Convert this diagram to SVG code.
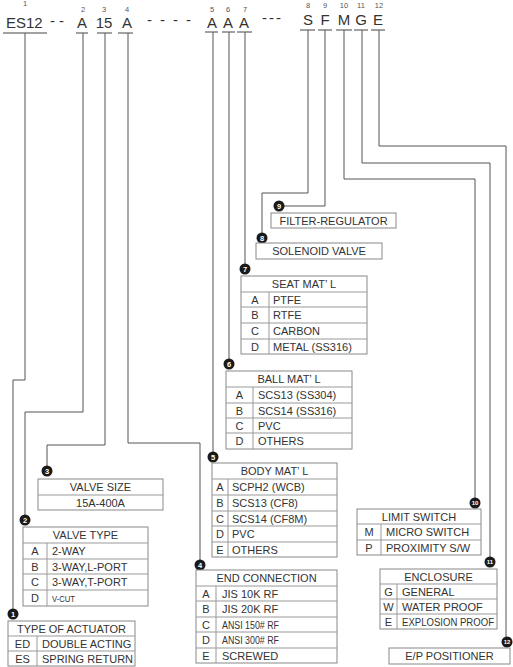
<svg xmlns="http://www.w3.org/2000/svg" width="513" height="667" viewBox="0 0 513 667">
<style>
.t{font-family:"Liberation Sans",Arial,sans-serif;font-size:11px;fill:#333}
.c{text-anchor:middle}
.h{font-family:"Liberation Sans",Arial,sans-serif;font-size:15px;fill:#333;text-anchor:middle}
.n{font-family:"Liberation Sans",Arial,sans-serif;font-size:7.5px;fill:#555;text-anchor:middle}
.ln{fill:none;stroke:#555;stroke-width:1}
.ul{stroke:#444;stroke-width:1}
.bx{fill:#fff;stroke:#888;stroke-width:1}
.gl{stroke:#999;stroke-width:1}
.bd{fill:#1a1a1a}
.bn{font-family:"Liberation Sans",Arial,sans-serif;font-size:7.5px;font-weight:bold;fill:#fff;text-anchor:middle}
.bn2{font-family:"Liberation Sans",Arial,sans-serif;font-size:6px;font-weight:bold;fill:#fff;text-anchor:middle}
</style>
<rect width="513" height="667" fill="#fff"/>

<g id="code">
<text class="n" x="25" y="6">1</text>
<text x="6" y="28" style="font-family:'Liberation Sans',Arial,sans-serif;font-size:15px;fill:#333">ES12</text>
<line class="ul" x1="3" y1="33" x2="47" y2="33"/>
<text x="50" y="26" style="font-family:'Liberation Sans',Arial,sans-serif;font-size:15px;fill:#333;letter-spacing:4px">--</text>
<text class="n" x="83" y="12">2</text><text class="h" x="82" y="28">A</text><line class="ul" x1="76" y1="33" x2="88" y2="33"/>
<text class="n" x="104" y="12">3</text><text class="h" x="104" y="28">15</text><line class="ul" x1="97" y1="33" x2="112" y2="33"/>
<text class="n" x="127" y="12">4</text><text class="h" x="127" y="28">A</text><line class="ul" x1="118" y1="33" x2="133" y2="33"/>
<text x="147" y="25" style="font-family:'Liberation Sans',Arial,sans-serif;font-size:15px;fill:#333;letter-spacing:8px">----</text>
<text class="n" x="212" y="12">5</text><text class="h" x="212" y="28">A</text><line class="ul" x1="205" y1="32" x2="218" y2="32"/>
<text class="n" x="228" y="12">6</text><text class="h" x="228" y="28">A</text><line class="ul" x1="222" y1="32" x2="235" y2="32"/>
<text class="n" x="245" y="12">7</text><text class="h" x="244" y="28">A</text><line class="ul" x1="237" y1="32" x2="252" y2="32"/>
<text x="262" y="23" style="font-family:'Liberation Sans',Arial,sans-serif;font-size:15px;fill:#333;letter-spacing:2px">---</text>
<text class="n" x="308" y="8">8</text><text class="h" x="308" y="25">S</text><line class="ul" x1="300" y1="30" x2="315" y2="30"/>
<text class="n" x="325" y="8">9</text><text class="h" x="325" y="25">F</text><line class="ul" x1="318" y1="30" x2="332" y2="30"/>
<text class="n" x="344" y="8">10</text><text class="h" x="344" y="25">M</text><line class="ul" x1="336" y1="30" x2="352" y2="30"/>
<text class="n" x="361" y="8">11</text><text class="h" x="361" y="25">G</text><line class="ul" x1="354" y1="30" x2="368" y2="30"/>
<text class="n" x="379" y="8">12</text><text class="h" x="378" y="25">E</text><line class="ul" x1="371" y1="30" x2="385" y2="30"/>
</g>

<g id="connectors">
<path class="ln" d="M25 33V380H13V609"/>
<path class="ln" d="M83 33V412H25V515"/>
<path class="ln" d="M105 33V445H47V466"/>
<path class="ln" d="M128 33V443H200V560"/>
<path class="ln" d="M213 32V452"/>
<path class="ln" d="M229 32V359"/>
<path class="ln" d="M245 32V264"/>
<path class="ln" d="M308 30V193H262V233"/>
<path class="ln" d="M325 30V206H284"/>
<path class="ln" d="M344 30V179H475V498"/>
<path class="ln" d="M362 30V163H490V557"/>
<path class="ln" d="M379 30V146H506V637"/>
</g>

<g id="badges">
<circle class="bd" cx="13" cy="614" r="5.5"/><text class="bn" x="13" y="617">1</text>
<circle class="bd" cx="25" cy="520" r="5.5"/><text class="bn" x="25" y="523">2</text>
<circle class="bd" cx="47" cy="471" r="5.5"/><text class="bn" x="47" y="474">3</text>
<circle class="bd" cx="200" cy="565" r="5.5"/><text class="bn" x="200" y="568">4</text>
<circle class="bd" cx="213" cy="457" r="5.5"/><text class="bn" x="213" y="460">5</text>
<circle class="bd" cx="229" cy="364" r="5.5"/><text class="bn" x="229" y="367">6</text>
<circle class="bd" cx="245" cy="269" r="5.5"/><text class="bn" x="245" y="272">7</text>
<circle class="bd" cx="262" cy="238" r="5.5"/><text class="bn" x="262" y="241">8</text>
<circle class="bd" cx="279" cy="206" r="5.5"/><text class="bn" x="279" y="209">9</text>
<circle class="bd" cx="475" cy="503" r="5.5"/><text class="bn2" x="475" y="505">10</text>
<circle class="bd" cx="490" cy="562" r="5.5"/><text class="bn2" x="490" y="564">11</text>
<circle class="bd" cx="507" cy="642" r="5.5"/><text class="bn2" x="507" y="644">12</text>
</g>

<g id="n1-actuator">
<rect class="bx" x="8" y="621" width="127" height="45"/>
<line class="gl" x1="8" y1="636" x2="135" y2="636"/>
<line class="gl" x1="8" y1="651" x2="135" y2="651"/>
<line class="gl" x1="37" y1="636" x2="37" y2="666"/>
<text class="t c" x="71.5" y="632.5">TYPE OF ACTUATOR</text>
<text class="t c" x="22.5" y="647.5">ED</text><text class="t" x="42" y="647.5">DOUBLE ACTING</text>
<text class="t c" x="22.5" y="662.5">ES</text><text class="t" x="42" y="662.5">SPRING RETURN</text>
</g>

<g id="n2-valve-type">
<rect class="bx" x="23" y="527" width="125" height="79"/>
<line class="gl" x1="23" y1="543" x2="148" y2="543"/>
<line class="gl" x1="23" y1="559" x2="148" y2="559"/>
<line class="gl" x1="23" y1="574" x2="148" y2="574"/>
<line class="gl" x1="23" y1="590" x2="148" y2="590"/>
<line class="gl" x1="47" y1="543" x2="47" y2="606"/>
<text class="t c" x="85.5" y="539">VALVE TYPE</text>
<text class="t c" x="35" y="555">A</text><text class="t" x="52" y="555">2-WAY</text>
<text class="t c" x="35" y="570.5">B</text><text class="t" x="52" y="570.5">3-WAY,L-PORT</text>
<text class="t c" x="35" y="586">C</text><text class="t" x="52" y="586">3-WAY,T-PORT</text>
<text class="t c" x="35" y="602">D</text><text class="t" x="52" y="602" style="font-size:9px" textLength="23" lengthAdjust="spacingAndGlyphs">V-CUT</text>
</g>

<g id="n3-valve-size">
<rect class="bx" x="38" y="479" width="125" height="31"/>
<line class="gl" x1="38" y1="495" x2="163" y2="495"/>
<text class="t c" x="100.5" y="491">VALVE SIZE</text>
<text class="t c" x="100.5" y="506.5">15A-400A</text>
</g>

<g id="n4-end-connection">
<rect class="bx" x="196" y="570" width="141" height="93"/>
<line class="gl" x1="196" y1="586" x2="337" y2="586"/>
<line class="gl" x1="196" y1="601" x2="337" y2="601"/>
<line class="gl" x1="196" y1="617" x2="337" y2="617"/>
<line class="gl" x1="196" y1="632" x2="337" y2="632"/>
<line class="gl" x1="196" y1="648" x2="337" y2="648"/>
<line class="gl" x1="216" y1="586" x2="216" y2="663"/>
<text class="t c" x="266.5" y="582">END CONNECTION</text>
<text class="t c" x="206" y="597.5">A</text><text class="t" x="222" y="597.5">JIS 10K RF</text>
<text class="t c" x="206" y="613">B</text><text class="t" x="222" y="613">JIS 20K RF</text>
<text class="t c" x="206" y="628.5">C</text><text class="t" x="222" y="628.5" style="font-size:10px" textLength="57" lengthAdjust="spacingAndGlyphs">ANSI 150# RF</text>
<text class="t c" x="206" y="644">D</text><text class="t" x="222" y="644" style="font-size:10px" textLength="57" lengthAdjust="spacingAndGlyphs">ANSI 300# RF</text>
<text class="t c" x="206" y="659.5">E</text><text class="t" x="222" y="659.5">SCREWED</text>
</g>

<g id="n5-body">
<rect class="bx" x="212" y="463" width="125" height="94"/>
<line class="gl" x1="212" y1="479" x2="337" y2="479"/>
<line class="gl" x1="212" y1="495" x2="337" y2="495"/>
<line class="gl" x1="212" y1="511" x2="337" y2="511"/>
<line class="gl" x1="212" y1="526" x2="337" y2="526"/>
<line class="gl" x1="212" y1="542" x2="337" y2="542"/>
<line class="gl" x1="228" y1="479" x2="228" y2="557"/>
<text class="t c" x="274.5" y="475">BODY MAT’ L</text>
<text class="t c" x="220" y="491">A</text><text class="t" x="232" y="491">SCPH2 (WCB)</text>
<text class="t c" x="220" y="507">B</text><text class="t" x="232" y="507">SCS13 (CF8)</text>
<text class="t c" x="220" y="522.5">C</text><text class="t" x="232" y="522.5">SCS14 (CF8M)</text>
<text class="t c" x="220" y="538">D</text><text class="t" x="232" y="538">PVC</text>
<text class="t c" x="220" y="553.5">E</text><text class="t" x="232" y="553.5">OTHERS</text>
</g>

<g id="n6-ball">
<rect class="bx" x="226" y="371" width="126" height="78"/>
<line class="gl" x1="226" y1="387" x2="352" y2="387"/>
<line class="gl" x1="226" y1="403" x2="352" y2="403"/>
<line class="gl" x1="226" y1="418" x2="352" y2="418"/>
<line class="gl" x1="226" y1="433" x2="352" y2="433"/>
<line class="gl" x1="253" y1="387" x2="253" y2="449"/>
<text class="t c" x="289" y="383">BALL MAT’ L</text>
<text class="t c" x="239.5" y="399">A</text><text class="t" x="258" y="399">SCS13 (SS304)</text>
<text class="t c" x="239.5" y="414.5">B</text><text class="t" x="258" y="414.5">SCS14 (SS316)</text>
<text class="t c" x="239.5" y="429.5">C</text><text class="t" x="258" y="429.5">PVC</text>
<text class="t c" x="239.5" y="445">D</text><text class="t" x="258" y="445">OTHERS</text>
</g>

<g id="n7-seat">
<rect class="bx" x="241" y="276" width="126" height="78"/>
<line class="gl" x1="241" y1="292" x2="367" y2="292"/>
<line class="gl" x1="241" y1="307" x2="367" y2="307"/>
<line class="gl" x1="241" y1="323" x2="367" y2="323"/>
<line class="gl" x1="241" y1="339" x2="367" y2="339"/>
<line class="gl" x1="269" y1="292" x2="269" y2="354"/>
<text class="t c" x="304" y="288">SEAT MAT’ L</text>
<text class="t c" x="255" y="303.5">A</text><text class="t" x="273" y="303.5">PTFE</text>
<text class="t c" x="255" y="319">B</text><text class="t" x="273" y="319">RTFE</text>
<text class="t c" x="255" y="335">C</text><text class="t" x="273" y="335">CARBON</text>
<text class="t c" x="255" y="350.5">D</text><text class="t" x="273" y="350.5">METAL (SS316)</text>
</g>

<g id="n8-solenoid">
<rect class="bx" x="256" y="243" width="126" height="16"/>
<text class="t c" x="319" y="255">SOLENOID VALVE</text>
</g>

<g id="n9-filter">
<rect class="bx" x="271" y="213" width="125" height="15"/>
<text class="t c" x="333.5" y="224.5">FILTER-REGULATOR</text>
</g>

<g id="n10-limit">
<rect class="bx" x="357" y="509" width="124" height="46"/>
<line class="gl" x1="357" y1="524" x2="481" y2="524"/>
<line class="gl" x1="357" y1="540" x2="481" y2="540"/>
<line class="gl" x1="381" y1="524" x2="381" y2="555"/>
<text class="t c" x="419" y="520.5">LIMIT SWITCH</text>
<text class="t c" x="369" y="536">M</text><text class="t" x="386" y="536">MICRO SWITCH</text>
<text class="t c" x="369" y="551.5">P</text><text class="t" x="386" y="551.5">PROXIMITY S/W</text>
</g>

<g id="n11-enclosure">
<rect class="bx" x="380" y="569" width="117" height="60"/>
<line class="gl" x1="380" y1="584" x2="497" y2="584"/>
<line class="gl" x1="380" y1="599" x2="497" y2="599"/>
<line class="gl" x1="380" y1="614" x2="497" y2="614"/>
<line class="gl" x1="397" y1="584" x2="397" y2="629"/>
<text class="t c" x="438.5" y="580.5">ENCLOSURE</text>
<text class="t c" x="388.5" y="595.5">G</text><text class="t" x="402" y="595.5">GENERAL</text>
<text class="t c" x="388.5" y="610.5">W</text><text class="t" x="402" y="610.5">WATER PROOF</text>
<text class="t c" x="388.5" y="625.5">E</text><text class="t" x="402" y="625.5" style="font-size:10px" textLength="92" lengthAdjust="spacingAndGlyphs">EXPLOSION PROOF</text>
</g>

<g id="n12-positioner">
<rect class="bx" x="389" y="648" width="121" height="16"/>
<text class="t c" x="449.5" y="660">E/P POSITIONER</text>
</g>
</svg>
